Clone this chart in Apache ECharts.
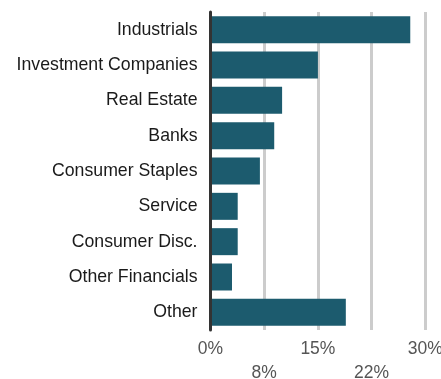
<!DOCTYPE html>
<html>
<head>
<meta charset="utf-8">
<script src="https://cdn.jsdelivr.net/npm/echarts@6/dist/echarts.min.js"></script>
<style>
  html, body { margin: 0; padding: 0; background: #ffffff; }
  #chart { width: 441px; height: 379px; }
</style>
</head>
<body>
<div id="chart"></div>
<script>
// Sector weights (%), listed top to bottom
const sectors = [
  'Industrials',
  'Investment Companies',
  'Real Estate',
  'Banks',
  'Consumer Staples',
  'Service',
  'Consumer Disc.',
  'Other Financials',
  'Other'
];
const weights = [27.9, 15.0, 10.0, 8.9, 6.9, 3.8, 3.8, 3.0, 18.9];

// Axis ticks every 7.5%, labels rounded
const tickValues = [0, 7.5, 15, 22.5, 30];
const tickLabels = ['0%', '8%', '15%', '22%', '30%'];

const chart = echarts.init(document.getElementById('chart'), null, { renderer: 'canvas' });

chart.setOption({
  animation: false,
  textStyle: { fontFamily: '"Liberation Sans", Arial, sans-serif' },
  grid: {
    left: 210.5, right: 15.7, top: 12, bottom: 49,
    containLabel: false,
    outerBoundsMode: 'none'
  },
  xAxis: {
    type: 'value',
    min: tickValues[0],
    max: tickValues[tickValues.length - 1],
    interval: tickValues[1] - tickValues[0],
    axisLine: { show: false },
    axisTick: { show: false },
    splitLine: { show: true, lineStyle: { color: '#cccccc', width: 3 } },
    axisLabel: {
      color: '#555555',
      fontSize: 17.5,
      lineHeight: 24,
      margin: 7.5,
      showMinLabel: true,
      showMaxLabel: true,
      hideOverlap: false,
      formatter: function (value) {
        const i = tickValues.indexOf(value);
        const text = i >= 0 ? tickLabels[i] : '';
        // alternate rows so neighbouring labels do not collide
        return i % 2 === 1 ? '\n' + text : text;
      }
    }
  },
  yAxis: {
    type: 'category',
    data: sectors,
    inverse: true,
    z: 3,
    axisLine: { show: true, lineStyle: { color: '#333333', width: 3 } },
    axisTick: { show: false },
    axisLabel: { color: '#1a1a1a', fontSize: 17.7, margin: 13, interval: 0 }
  },
  series: [{
    type: 'bar',
    data: weights,
    barWidth: 27,
    itemStyle: { color: '#1c5b6e' }
  }]
});
</script>
</body>
</html>
